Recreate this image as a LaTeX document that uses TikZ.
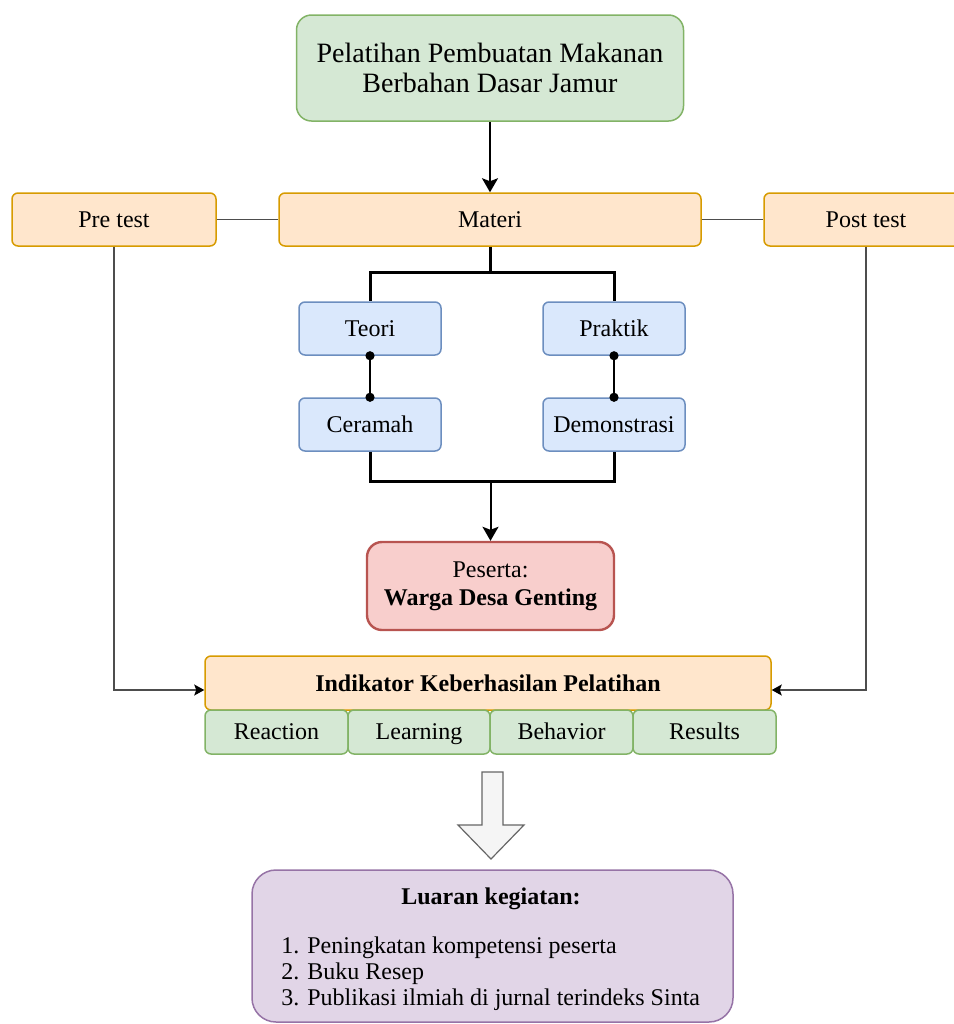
\documentclass[tikz,border=0pt]{standalone}
\usepackage{fontspec}
\setmainfont{Liberation Serif}
\usepackage{xcolor}
\usepackage{tikz}
\usetikzlibrary{arrows.meta}

% warna kotak
\definecolor{hijauisi}{HTML}{D5E8D4}
\definecolor{hijaugaris}{HTML}{82B366}
\definecolor{oranyeisi}{HTML}{FFE6CC}
\definecolor{oranyegaris}{HTML}{D79B00}
\definecolor{biruisi}{HTML}{DAE8FC}
\definecolor{birugaris}{HTML}{6C8EBF}
\definecolor{merahisi}{HTML}{F8CECC}
\definecolor{merahgaris}{HTML}{B85450}
\definecolor{unguisi}{HTML}{E1D5E7}
\definecolor{ungugaris}{HTML}{9673A6}
\definecolor{abuisi}{HTML}{F5F5F5}
\definecolor{abugaris}{HTML}{666666}
\definecolor{garisabu}{HTML}{4D4D4D}

\tikzset{
  kotak/.style={rectangle, rounded corners=3pt, line width=0.75pt, align=center,
    inner sep=0pt, font=\fontsize{12}{14}\selectfont},
  kotakhijau/.style={kotak, fill=hijauisi, draw=hijaugaris},
  kotakoranye/.style={kotak, fill=oranyeisi, draw=oranyegaris},
  kotakbiru/.style={kotak, fill=biruisi, draw=birugaris, minimum width=71pt, minimum height=26.5pt},
  kotakbaris/.style={kotakhijau, minimum width=71.5pt, minimum height=22pt,
    text height=2ex, text depth=0.3ex},
  panah/.style={-{Stealth[length=7pt,width=8pt,inset=1.5pt]}},
  panahkecil/.style={-{Stealth[length=5pt,width=5.5pt,inset=1pt,color=black]}},
}

\begin{document}
\begin{tikzpicture}[x=0.5pt,y=-0.5pt]
\useasboundingbox (0,0) rectangle (954,1024);

% Kotak judul dan materi
\node[kotakhijau, rounded corners=7.5pt, minimum width=193.5pt, minimum height=53pt,
  font=\fontsize{14}{15}\selectfont] (judul) at (490,68)
  {Pelatihan Pembuatan Makanan\\Berbahan Dasar Jamur};
\node[kotakoranye, minimum width=211pt, minimum height=26.5pt] (materi) at (490,219.5) {Materi};
\node[kotakoranye, minimum width=102pt, minimum height=26.5pt] (pre) at (114,219.5) {Pre test};
\node[kotakoranye, minimum width=102pt, minimum height=26.5pt] (post) at (866,219.5) {Post test};

% Teori dan praktik
\node[kotakbiru] (teori) at (370,328.5) {Teori};
\node[kotakbiru] (praktik) at (614,328.5) {Praktik};
\node[kotakbiru] (ceramah) at (370,424.5) {Ceramah};
\node[kotakbiru] (demo) at (614,424.5) {Demonstrasi};

% Peserta
\node[kotak, fill=merahisi, draw=merahgaris, line width=1.2pt, rounded corners=7.5pt,
  minimum width=123.5pt, minimum height=44pt] (peserta) at (490.5,586)
  {Peserta:\\\textbf{Warga Desa Genting}};

% Indikator keberhasilan
\node[kotakoranye, minimum width=283pt, minimum height=27pt] (indikator) at (488,683)
  {\textbf{Indikator Keberhasilan Pelatihan}};
\node[kotakbaris] (reaction) at (276.5,732) {Reaction};
\node[kotakbaris, minimum width=71pt] (learning) at (419,732) {Learning};
\node[kotakbaris] (behavior) at (561.5,732) {Behavior};
\node[kotakbaris] (results) at (704.5,732) {Results};

% Panah besar ke luaran
\draw[fill=abuisi, draw=abugaris, line width=0.6pt]
  (482,772) -- (503,772) -- (503,825) -- (524,825) -- (491,859) -- (458,825) -- (482,825) -- cycle;

% Luaran kegiatan
\node[kotak, fill=unguisi, draw=ungugaris, rounded corners=12pt,
  minimum width=240.5pt, minimum height=76pt] (luaran) at (492.5,946) {};
\node[font=\fontsize{12}{14}\selectfont] (luaranjudul) at (491,899) {\textbf{Luaran kegiatan:}};
\node[anchor=west, align=left, inner sep=0pt, font=\fontsize{12}{13}\selectfont] (luaranisi) at (281,974)
  {1. Peningkatan kompetensi peserta\\2. Buku Resep\\3. Publikasi ilmiah di jurnal terindeks Sinta};

% Garis penghubung
\draw[panah, line width=1pt] (judul) -- (materi);
\draw[garisabu, line width=0.75pt] (pre) -- (materi);
\draw[garisabu, line width=0.75pt] (materi) -- (post);
\draw[line width=1.5pt] (materi.south) -- ++(0,26) -| (teori.north);
\draw[line width=1.5pt] (materi.south) ++(0,26) -| (praktik.north);
\draw[line width=1pt] (teori.south) -- (ceramah.north);
\draw[line width=1pt] (praktik.south) -- (demo.north);
\foreach \n in {teori.south,ceramah.north,praktik.south,demo.north}
  \fill (\n) circle (2.3pt);
\draw[line width=1.5pt] (ceramah.south) -- ++(0,30) -| (demo.south);
\coordinate (tengah) at ([yshift=-15pt]ceramah.south -| peserta.north);
\draw[panah, line width=1pt] (tengah) -- (peserta.north);
\draw[garisabu, line width=0.75pt, panahkecil] (pre.south) |- ([yshift=-3.5pt]indikator.west);
\draw[garisabu, line width=0.75pt, panahkecil] (post.south) |- ([yshift=-3.5pt]indikator.east);

\end{tikzpicture}
\end{document}
